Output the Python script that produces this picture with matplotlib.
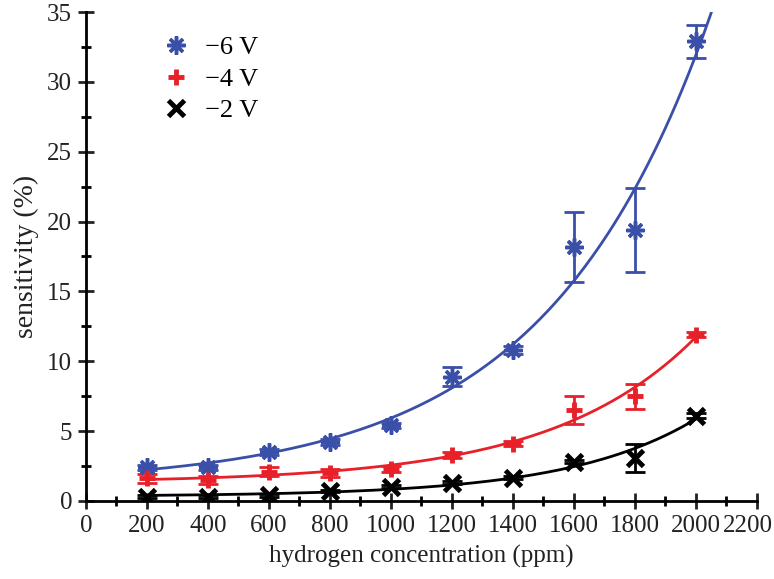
import numpy as np
import matplotlib
matplotlib.use("Agg")
import matplotlib.pyplot as plt
import matplotlib.transforms as mtransforms

plt.rcParams['font.family'] = ['Liberation Serif', 'DejaVu Serif']
plt.rcParams['mathtext.fontset'] = 'stix'

conc = [200, 400, 600, 800, 1000, 1200, 1400, 1600, 1800, 2000]

s6 = [2.4, 2.4, 3.5, 4.2, 5.4, 8.9, 10.8, 18.2, 19.4, 32.9]
e6 = [0.2, 0.2, 0.2, 0.2, 0.2, 0.7, 0.3, 2.5, 3.0, 1.2]

s4 = [1.6, 1.5, 2.1, 2.0, 2.3, 3.3, 4.1, 6.5, 7.5, 11.9]
e4 = [0.3, 0.3, 0.3, 0.3, 0.2, 0.2, 0.2, 1.0, 0.9, 0.2]

s2 = [0.3, 0.3, 0.4, 0.7, 1.0, 1.3, 1.65, 2.8, 3.1, 6.1]
e2 = [0.1, 0.1, 0.1, 0.1, 0.1, 0.1, 0.1, 0.1, 1.0, 0.2]

labels = ['\u22126 V', '\u22124 V', '\u22122 V']
colors = ['#3a4fa8', '#e8202a', '#000000']


def expgrow_fit(x, y):
    # y = A*exp(x/t) + y0, best t by grid search, A and y0 by least squares
    x = np.asarray(x, float)
    y = np.asarray(y, float)
    best = None
    for t in np.linspace(150, 3000, 2000):
        M = np.column_stack([np.exp(x / t), np.ones_like(x)])
        coef, res, _, _ = np.linalg.lstsq(M, y, rcond=None)
        r = np.sum((M @ coef - y) ** 2)
        if best is None or r < best[0]:
            best = (r, t, coef)
    _, t, (A, y0) = best
    return lambda xx: A * np.exp(xx / t) + y0


fig = plt.figure(figsize=(7.74, 5.79), dpi=100)
ax = fig.add_axes([0.111, 0.135, 0.867, 0.844])

series = [(s6, e6, (8, 2, 0), 13, 2.5, 2060),
          (s4, e4, '+', 12, 3.5, 2000),
          (s2, e2, 'x', 11, 3.5, 2000)]

handles = []
for (ys, es, mk, ms, mew, xend), lab, c in zip(series, labels, colors):
    ax.errorbar(conc, ys, yerr=es, fmt='none', ecolor=c, elinewidth=2,
                capsize=7, capthick=2, zorder=2)
    h, = ax.plot(conc, ys, linestyle='none', marker=mk, markersize=ms,
                 markeredgewidth=mew, color=c, markerfacecolor=c,
                 zorder=3, label=lab)
    handles.append(h)
    f = expgrow_fit(conc, ys)
    xx = np.linspace(200, xend, 300)
    ax.plot(xx, f(xx), color=c, linewidth=2, zorder=2)

ax.set_xlim(0, 2200)
ax.set_ylim(0, 35)
ax.set_xticks(range(0, 2201, 200))
ax.set_xticks(range(100, 2200, 200), minor=True)
ax.set_yticks(range(0, 36, 5))
ax.set_yticks(np.arange(2.5, 35, 5), minor=True)
ax.spines['top'].set_visible(False)
ax.spines['right'].set_visible(False)
for s in ['left', 'bottom']:
    ax.spines[s].set_linewidth(2)
ax.tick_params(which='major', direction='inout', length=12, width=2,
               labelsize=18, colors='#222222')
ax.tick_params(which='minor', direction='inout', length=7, width=2)
ax.tick_params(axis='x', pad=4)
ax.tick_params(axis='y', pad=4)

# keep the last x tick label inside the figure
last = ax.get_xticklabels()[-1]
last.set_transform(last.get_transform() +
                   mtransforms.ScaledTranslation(-9 / 100, 0, fig.dpi_scale_trans))

ax.set_xlabel('hydrogen concentration (ppm)', fontsize=18, labelpad=6, color='#222222')
ax.set_ylabel('sensitivity (%)', fontsize=20, labelpad=6, color='#222222')

ax.legend(handles=handles, loc='upper left', bbox_to_anchor=(0.075, 1.0),
          frameon=False, fontsize=19, handletextpad=0.5, labelspacing=0.3,
          handlelength=1.2)

plt.savefig('out.png', dpi=100)
